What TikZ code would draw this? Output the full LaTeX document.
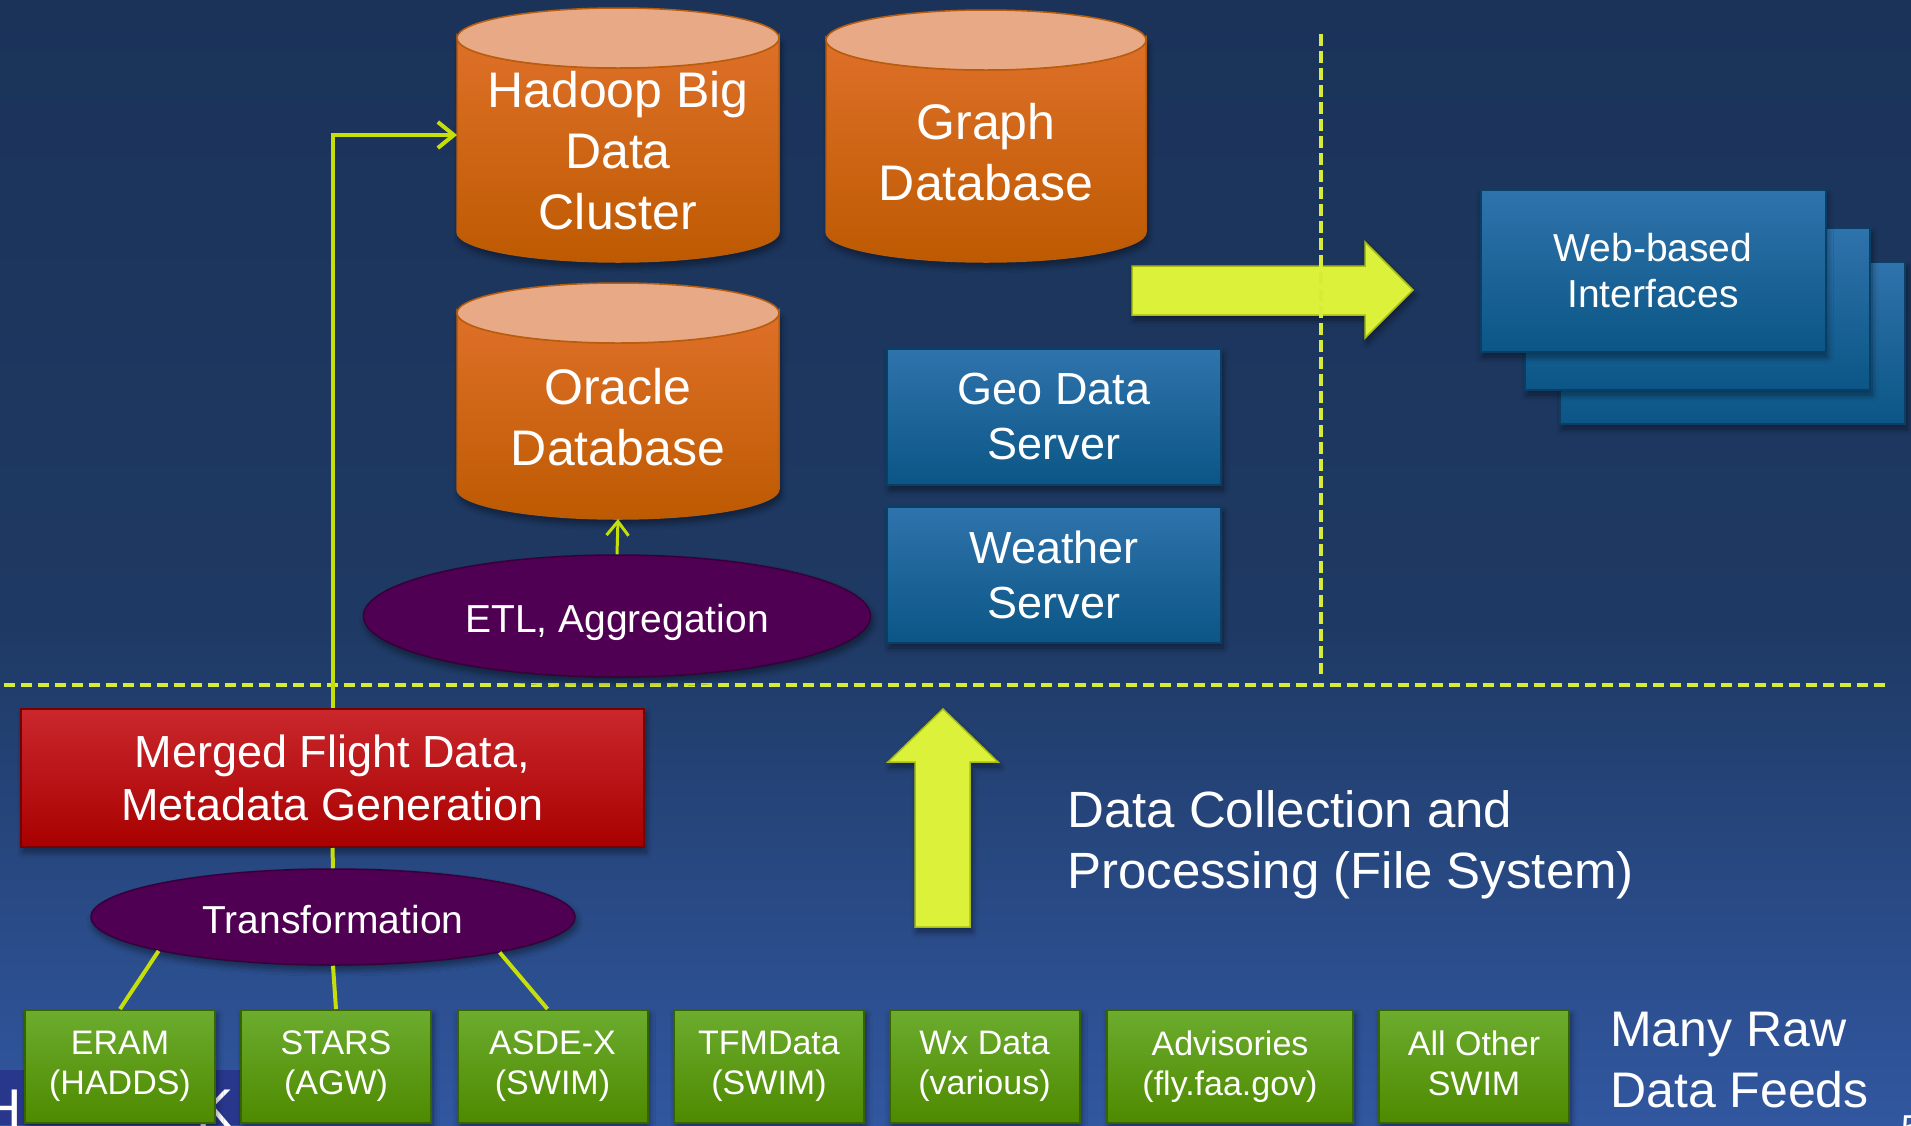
\documentclass[tikz,border=0pt]{standalone}
\usepackage{fontspec}
\setmainfont{Liberation Sans}
\usetikzlibrary{shapes.geometric,arrows.meta,shadows.blur}
\definecolor{bgtop}{RGB}{27,51,89}
\definecolor{bgmid}{RGB}{30,57,99}
\definecolor{bgbot}{RGB}{49,87,160}
\definecolor{cylA}{RGB}{222,112,40}
\definecolor{cylB}{RGB}{214,100,2}
\definecolor{cylC}{RGB}{190,90,2}
\definecolor{cyltop}{RGB}{232,170,134}
\definecolor{cylline}{RGB}{184,92,14}
\definecolor{blueA}{RGB}{47,115,172}
\definecolor{blueB}{RGB}{11,86,134}
\definecolor{blueline}{RGB}{10,62,100}
\definecolor{purp}{RGB}{80,0,82}
\definecolor{purpline}{RGB}{55,0,58}
\definecolor{redA}{RGB}{202,40,45}
\definecolor{redB}{RGB}{168,0,0}
\definecolor{redline}{RGB}{120,0,0}
\definecolor{grnA}{RGB}{108,172,46}
\definecolor{grnB}{RGB}{78,138,0}
\definecolor{grnline}{RGB}{56,100,0}
\definecolor{lime}{RGB}{220,242,58}
\definecolor{limeline}{RGB}{168,188,20}
\definecolor{linkc}{RGB}{198,222,10}
\definecolor{dashc}{RGB}{214,236,56}
\definecolor{bandc}{RGB}{40,55,140}
\tikzset{
  softshadow/.style={blur shadow={shadow xshift=2pt,shadow yshift=-5pt,shadow blur radius=6pt,shadow blur steps=8,shadow opacity=45}},
  cyltext/.style={inner sep=0,align=center,text=white,font=\fontsize{50}{61}\selectfont},
  bluebox/.style={draw=blueline,line width=2pt,top color=blueA,bottom color=blueB,minimum width=334pt,minimum height=136pt,inner sep=0,align=center,text=white,font=\fontsize{45}{55}\selectfont,softshadow},
  webbox/.style={draw=blueline,line width=2pt,top color=blueA,bottom color=blueB,minimum width=345pt,minimum height=162pt,inner sep=0,align=center,text=white,font=\fontsize{39}{46}\selectfont,softshadow},
  procell/.style={ellipse,draw=purpline,line width=1.5pt,fill=purp,inner sep=0,text=white,text height=32pt,text depth=0pt,font=\fontsize{39}{46}\selectfont,softshadow},
  redbox/.style={draw=redline,line width=2pt,top color=redA,bottom color=redB,minimum width=623pt,minimum height=138pt,inner sep=0,align=center,text=white,font=\fontsize{45}{53}\selectfont,softshadow},
  feed/.style={draw=grnline,line width=2pt,top color=grnA,bottom color=grnB,minimum width=190pt,minimum height=113pt,inner sep=0,align=center,text=white,font=\fontsize{34}{40}\selectfont,softshadow},
  bigarrow/.style={fill=lime,draw=limeline,line width=1.5pt,softshadow},
  link/.style={draw=linkc,line width=4pt},
  bigtext/.style={inner sep=0,align=left,text=white},
}
\newcommand\DBcyl[5]{%
  \path[draw=cylline,line width=1.5pt,top color=cylA,middle color=cylB,bottom color=cylC,softshadow]
    ({#2-#5},#3) -- ({#2-#5},#4)
    arc[start angle=180,end angle=360,x radius=#5pt,y radius=30pt]
    -- ({#2+#5},#3)
    arc[start angle=0,end angle=-180,x radius=#5pt,y radius=30pt] -- cycle;
  \path[draw=cylline,line width=1.5pt,fill=cyltop] (#2,#3) ellipse[x radius=#5pt,y radius=30pt];
  \node[minimum width={2*#5*1pt},minimum height={(#4-#3+60)*1pt},inner sep=0,outer sep=0] (#1) at (#2,{(#3+#4)/2}) {};
}
\begin{document}
\begin{tikzpicture}[x=1pt,y=-1pt]
\useasboundingbox (0,0) rectangle (1911,1125);
% background
\fill[top color=bgtop,bottom color=bgmid] (0,0) rectangle (1911,620);
\fill[top color=bgmid,bottom color=bgbot] (0,620) rectangle (1911,1125);
\fill[bandc] (0,1070) rectangle (240,1125);
\node[anchor=base east,inner sep=0,text=white,font=\fontsize{56}{60}\selectfont] (hpart) at (22,1128) {H};
\node[anchor=base west,inner sep=0,text=white,font=\fontsize{56}{60}\selectfont] (kpart) at (196,1128) {K};
\node[anchor=base west,inner sep=0,text=white,font=\fontsize{36}{40}\selectfont] (pageno) at (1901,1140) {5};
% horizontal separator
\draw[dashc,line width=4pt,dash pattern=on 11pt off 6pt] (4,685) -- (1890,685);

% databases
\DBcyl{hadoop}{618}{38}{232}{161}
\node[cyltext] (hadooplbl) at (618,151) {Hadoop Big\\Data\\Cluster};
\DBcyl{graphdb}{986}{40}{232}{160}
\node[cyltext] (graphlbl) at (986,152) {Graph\\Database};
\DBcyl{oracle}{618}{313}{489}{161}
\node[cyltext] (oraclelbl) at (618,417) {Oracle\\Database};

% servers
\node[bluebox] (geo) at (1054,417) {Geo Data\\Server};
\node[bluebox] (weather) at (1054,575) {Weather\\Server};

% web interfaces
\node[webbox] (web3) at (1732.5,343) {};
\node[webbox] (web2) at (1697.5,309) {};
\node[webbox] (web1) at (1653,271) {Web-based\\Interfaces};

% processes
\node[procell,minimum width=507pt,minimum height=122pt] (etl) at (617,616) {ETL, Aggregation};
\node[redbox] (merged) at (332.5,778) {Merged Flight Data,\\Metadata Generation};
\node[procell,minimum width=484pt,minimum height=96pt] (trans) at (333,917) {Transformation};

% raw feeds
\node[feed] (eram) at (120,1066.5) {ERAM\\(HADDS)};
\node[feed] (stars) at (336,1066.5) {STARS\\(AGW)};
\node[feed] (asdex) at (552.5,1066.5) {ASDE-X\\(SWIM)};
\node[feed] (tfm) at (769,1066.5) {TFMData\\(SWIM)};
\node[feed] (wx) at (984.5,1066.5) {Wx Data\\(various)};
\node[feed,minimum width=246pt] (adv) at (1230,1066.5) {Advisories\\(fly.faa.gov)};
\node[feed] (other) at (1474,1066.5) {All Other\\SWIM\vphantom{()}};

% big arrows
\path[bigarrow] (1132,266) -- (1365,266) -- (1365,242) -- (1413,290) -- (1365,338) -- (1365,315) -- (1132,315) -- cycle;
\path[bigarrow] (915,927) -- (915,762) -- (888,762) -- (943,709) -- (998,762) -- (970,762) -- (970,927) -- cycle;

% vertical separator
\draw[dashc,line width=4pt,dash pattern=on 12pt off 5pt] (1321,34) -- (1321,674);

% texts
\node[bigtext,anchor=north west,font=\fontsize{51}{61}\selectfont] (collect) at (1067,790) {Data Collection and\\Processing (File System)};
\node[bigtext,anchor=north west,font=\fontsize{50}{61}\selectfont] (raw) at (1610,1012) {Many Raw\\Data Feeds};

% connectors
\draw[link] (trans.north) -- (merged.south);
\draw[link,-{Straight Barb[length=16pt,width=26pt]}] (merged.north) |- (hadoop.west);
\draw[link,line width=3pt,-{Straight Barb[length=14pt,width=22pt]}] (etl.north) -- (oracle.south);
\draw[link] (trans.191.6) -- (eram.north);
\draw[link] (trans.south) -- (stars.north);
\draw[link] (trans.348.4) -- ([xshift=-5pt]asdex.north);
\end{tikzpicture}
\end{document}
